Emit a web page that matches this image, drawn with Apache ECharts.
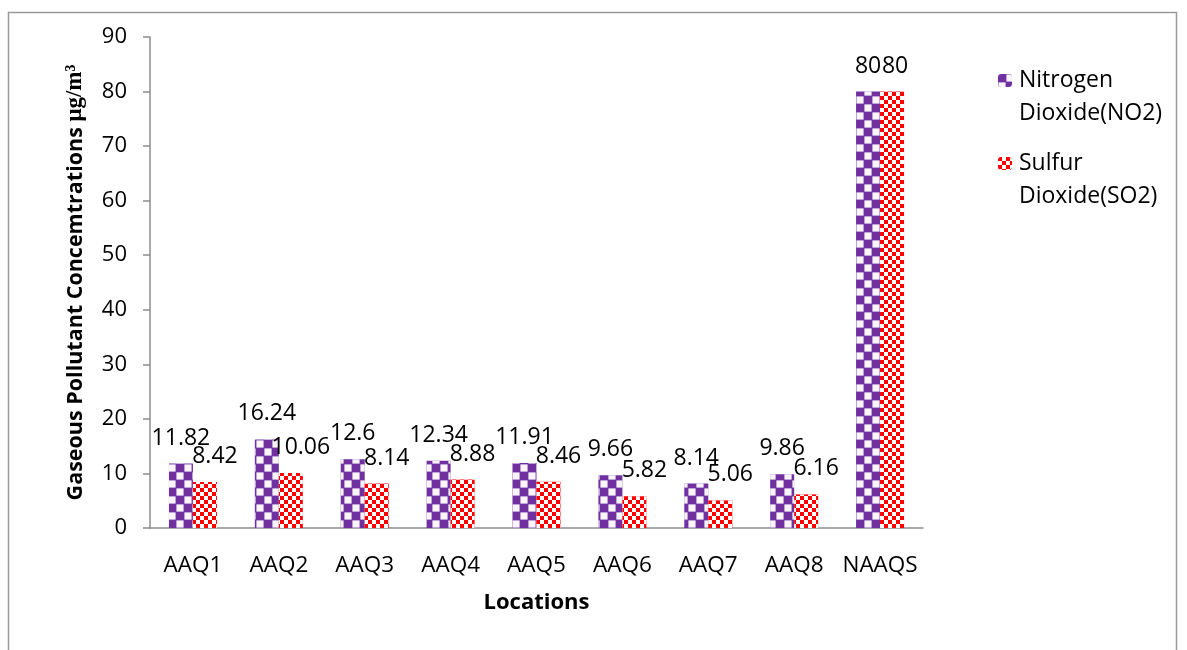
<!DOCTYPE html>
<html><head><meta charset="utf-8">
<script src="https://cdn.jsdelivr.net/npm/echarts@6/dist/echarts.min.js"></script>
<style>html,body{margin:0;padding:0;background:#fff}#c{width:1187px;height:650px}</style>
</head><body><div id="c"></div>
<script>
const categories = ['AAQ1','AAQ2','AAQ3','AAQ4','AAQ5','AAQ6','AAQ7','AAQ8','NAAQS'];
const no2 = [11.82, 16.24, 12.6, 12.34, 11.91, 9.66, 8.14, 9.86, 80];
const so2 = [8.42, 10.06, 8.14, 8.88, 8.46, 5.82, 5.06, 6.16, 80];
const yTicks = [0,10,20,30,40,50,60,70,80,90];
const seriesNames = ['Nitrogen\nDioxide(NO2)', 'Sulfur\nDioxide(SO2)'];

const FONT = '"Open Sans", sans-serif';
const LH = 33;
function legendOf(name, top){
  return {
    orient:'vertical', left:993, top:top, itemWidth:14, itemHeight:13,
    data:[{name:name}],
    formatter: n => ' \n' + n,
    textStyle:{fontFamily:FONT, fontSize:23, color:'#000', lineHeight:LH, padding:[0,0,0,2]}
  };
}
const so2Data = so2.map((v,i)=> i===categories.length-1 ? {value:v, label:{offset:[3,0]}} : v);

const chart = echarts.init(document.getElementById('c'));
chart.setOption({
  animation: false,
  graphic: [{type:'rect', shape:{x:8.5,y:12.5,width:1168,height:660}, style:{fill:'none', stroke:'#9a9a9a', lineWidth:1.5}, silent:true}],
  grid: {left:150, right:264, top:37, bottom:122},
  legend: [legendOf(seriesNames[0], 26), legendOf(seriesNames[1], 109)],
  xAxis: {
    type:'category', data:categories,
    name:'Locations', nameLocation:'middle', nameGap:64,
    nameTextStyle:{fontFamily:FONT, fontSize:22, fontWeight:'bold', color:'#000'},
    axisLine:{lineStyle:{color:'#8c8c8c', width:1.5}},
    axisTick:{show:false},
    axisLabel:{fontFamily:FONT, fontSize:22.5, color:'#000', margin:26, interval:0}
  },
  yAxis: {
    type:'value', min:yTicks[0], max:yTicks[yTicks.length-1], interval:10,
    name:'{a|Gaseous Pollutant Concemtrations }{b|μg/m³}', nameLocation:'middle', nameGap:63,
    nameTextStyle:{rich:{
      a:{fontFamily:FONT, fontSize:21.5, fontWeight:'bold', color:'#000'},
      b:{fontFamily:'"Liberation Serif", serif', fontSize:23, fontWeight:'bold', color:'#000'}
    }},
    axisLine:{show:true, lineStyle:{color:'#8c8c8c', width:1.5}},
    axisTick:{show:true, length:7, inside:false, lineStyle:{color:'#8c8c8c', width:1.5}},
    splitLine:{show:false},
    axisLabel:{fontFamily:FONT, fontSize:22, color:'#000', margin:23}
  },
  series: [
    {name:seriesNames[0], type:'bar', data:no2, barWidth:24, barGap:'0%',
     itemStyle:{color:'#7030A0', decal:{symbol:'rect', symbolSize:0.9, color:'rgba(255,255,255,0.95)',
       dashArrayX:[[8,8],[0,8,8,0]], dashArrayY:[8,0], rotation:0}},
     label:{show:true, position:'top', distance:14, fontFamily:FONT, fontSize:23, color:'#000'}},
    {name:seriesNames[1], type:'bar', data:so2Data, barWidth:24,
     itemStyle:{color:'#FF0000', decal:{symbol:'rect', symbolSize:1, color:'#ffffff',
       dashArrayX:[[4,4],[0,4,4,0]], dashArrayY:[4,0], rotation:0}},
     label:{show:true, position:'top', distance:14, offset:[10,0], fontFamily:FONT, fontSize:23, color:'#000'}}
  ]
});
</script></body></html>
